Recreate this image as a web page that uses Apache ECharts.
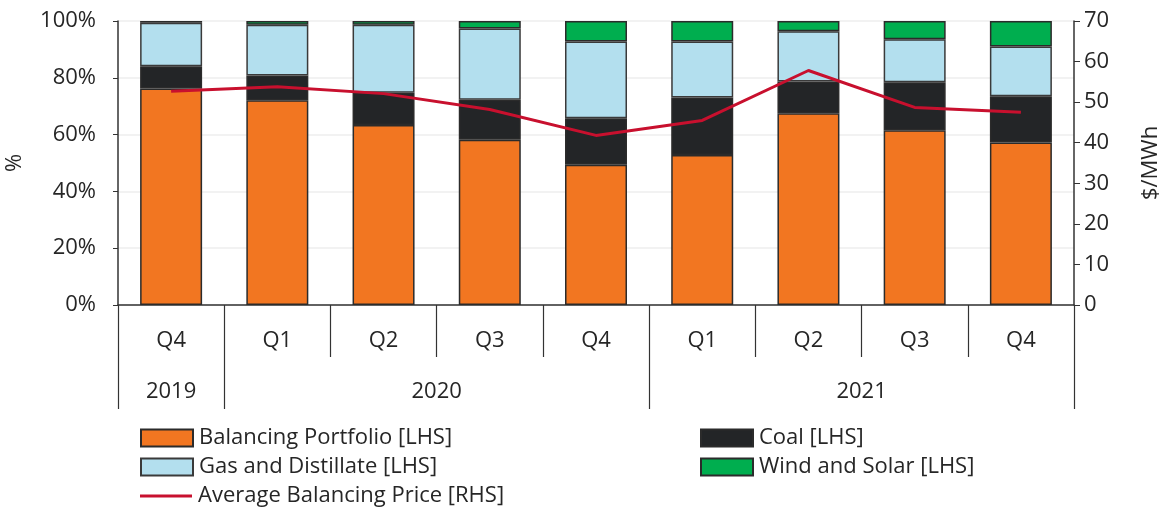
<!DOCTYPE html>
<html>
<head>
<meta charset="utf-8">
<script src="https://cdn.jsdelivr.net/npm/echarts@6/dist/echarts.min.js"></script>
<style>
  html, body { margin: 0; padding: 0; background: #fff; }
  #chart { width: 1164px; height: 511px; }
</style>
</head>
<body>
<div id="chart"></div>
<script>
// quarter categories and year groups
const quarters = ['Q4', 'Q1', 'Q2', 'Q3', 'Q4', 'Q1', 'Q2', 'Q3', 'Q4'];
const years = ['2019', '2020', '2021'];
const yearCenters = [0.5, 3, 7];      // middle of each year group (in category units)
const yearStartIdx = [0, 1, 5];       // first quarter of each year

// generation mix (% share, stacked)
const balancing = [76.2, 72.1, 63.4, 58.2, 49.4, 52.8, 67.5, 61.5, 57.2];
const coal = [7.9, 8.7, 11.3, 14.1, 16.4, 20.3, 11.2, 16.9, 16.3];
const gas = [15.3, 17.9, 24.0, 25.1, 27.0, 19.7, 17.7, 15.2, 17.5];
const windSolar = [0.6, 1.3, 1.3, 2.6, 7.2, 7.2, 3.6, 6.4, 9.0];
// average balancing price ($/MWh)
const avgPrice = [52.7, 53.8, 52.1, 48.2, 41.8, 45.5, 57.8, 48.7, 47.5];

const FONT = 'Open Sans';
const TXT = '#262626';
const FS = 22;
const chart = echarts.init(document.getElementById('chart'));

function barSeries(name, data, color, border) {
  return {
    name: name,
    type: 'bar',
    stack: 'mix',
    barWidth: 62,
    data: data,
    itemStyle: { color: color, borderColor: border, borderWidth: 1.5 }
  };
}

// one legend per entry so the two-column layout is fixed
function legendItem(name, left, top, h) {
  return {
    left: left, top: top,
    itemWidth: 52, itemHeight: h, itemGap: 0,
    icon: 'rect',
    textStyle: { fontFamily: FONT, fontSize: FS, color: TXT, padding: [0, 0, 0, 1] },
    data: [name]
  };
}

const option = {
  animation: false,
  textStyle: { fontFamily: FONT, color: TXT },
  grid: [
    { left: 118, right: 90, top: 21, bottom: 206, outerBoundsMode: 'none' },
    // strip under the quarter row, holds the year separators and labels
    { left: 118, right: 90, top: 357, bottom: 102, outerBoundsMode: 'none' }
  ],
  legend: [
    legendItem('Balancing Portfolio [LHS]', 135, 422, 17),
    legendItem('Gas and Distillate [LHS]', 135, 451, 17),
    legendItem('Average Balancing Price [RHS]', 135, 480, 3),
    legendItem('Coal [LHS]', 695, 422, 17),
    legendItem('Wind and Solar [LHS]', 695, 451, 17)
  ],
  xAxis: [
    {
      type: 'category',
      gridIndex: 0,
      data: quarters,
      boundaryGap: true,
      axisLine: { lineStyle: { color: '#333', width: 1.5 } },
      axisTick: { show: true, length: 52, lineStyle: { color: '#333', width: 1.2 } },
      axisLabel: { fontSize: FS, color: TXT, margin: 25 },
      splitLine: { show: false }
    },
    {
      // year separators drawn as split lines at the first quarter of each year
      type: 'category',
      gridIndex: 1,
      data: quarters,
      boundaryGap: true,
      axisLine: { show: false },
      axisTick: { show: false },
      axisLabel: { show: false },
      splitLine: {
        show: true,
        interval: function (idx) { return yearStartIdx.indexOf(idx) >= 0; },
        lineStyle: { color: '#333', width: 1.2 }
      }
    },
    {
      // year labels centred under their quarters
      type: 'value',
      gridIndex: 1,
      min: 0,
      max: 9,
      axisLine: { show: false },
      axisTick: { show: false },
      axisLabel: {
        inside: true,
        fontSize: FS, color: TXT, margin: 24,
        customValues: yearCenters,
        formatter: function (v) { return years[yearCenters.indexOf(v)]; }
      },
      splitLine: { show: false }
    }
  ],
  yAxis: [
    {
      type: 'value',
      gridIndex: 0,
      min: 0, max: 100, interval: 20,
      name: '%',
      nameLocation: 'middle',
      nameRotate: 90,
      nameGap: 92,
      nameTextStyle: { fontSize: FS, color: TXT },
      axisLine: { show: true, lineStyle: { color: '#333', width: 1.5 } },
      axisTick: { show: true, length: 5, lineStyle: { color: '#333' } },
      axisLabel: { fontSize: FS, color: TXT, formatter: '{value}%', margin: 22 },
      splitLine: { show: true, lineStyle: { color: '#eeeeee', width: 1.5 } }
    },
    {
      type: 'value',
      gridIndex: 0,
      min: 0, max: 70, interval: 10,
      name: '$/MWh',
      nameLocation: 'middle',
      nameRotate: 90,
      nameGap: 66,
      nameTextStyle: { fontSize: FS, color: TXT },
      axisLine: { show: true, lineStyle: { color: '#333', width: 1.5 } },
      axisTick: { show: true, length: 6, lineStyle: { color: '#333' } },
      axisLabel: { fontSize: FS, color: TXT, margin: 10 },
      splitLine: { show: false }
    },
    {
      type: 'value',
      gridIndex: 1,
      show: false
    }
  ],
  series: [
    barSeries('Balancing Portfolio [LHS]', balancing, '#F27621', '#2b2b2b'),
    barSeries('Coal [LHS]', coal, '#232527', '#2b2b2b'),
    barSeries('Gas and Distillate [LHS]', gas, '#B3DFEE', '#3a3a3a'),
    barSeries('Wind and Solar [LHS]', windSolar, '#00AE4F', '#2b2b2b'),
    {
      name: 'Average Balancing Price [RHS]',
      type: 'line',
      yAxisIndex: 1,
      data: avgPrice,
      symbol: 'none',
      lineStyle: { color: '#C8102E', width: 3 },
      itemStyle: { color: '#C8102E' },
      z: 5
    }
  ]
};

chart.setOption(option);
</script>
</body>
</html>
